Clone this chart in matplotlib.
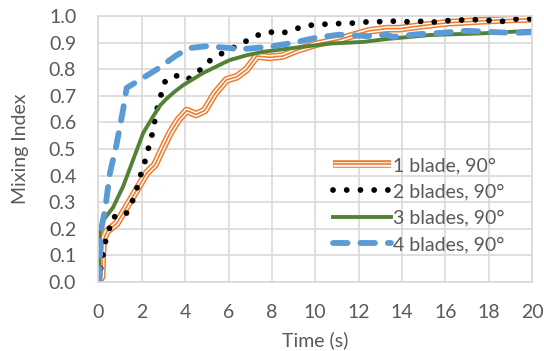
import matplotlib
matplotlib.use("Agg")
import matplotlib.pyplot as plt
from matplotlib.legend_handler import HandlerTuple

# ---- data ----
t1 = [0, 0.15, 0.18, 0.22, 0.38, 0.84, 1.3, 1.76, 2.22, 2.6, 2.92, 3.3, 3.68, 4.07, 4.5, 4.9,
      5.37, 5.9, 6.38, 6.84, 7.3, 7.9, 8.5, 9.15, 10.07, 11.1, 11.75, 12.5, 13.3, 13.9, 15.0,
      16.1, 17.6, 19.1, 20]
v1 = [0, 0.02, 0.10, 0.158, 0.19, 0.22, 0.283, 0.346, 0.41, 0.44, 0.496, 0.56, 0.61, 0.645,
      0.63, 0.645, 0.709, 0.76, 0.772, 0.80, 0.85, 0.845, 0.85, 0.872, 0.895, 0.912, 0.928,
      0.945, 0.953, 0.953, 0.965, 0.975, 0.982, 0.988, 0.99]

t2 = [0, 0.1, 0.3, 0.67, 1.22, 1.53, 1.73, 1.92, 2.1, 2.28, 2.45, 2.58, 2.7, 2.87, 3.07, 3.53,
      4.07, 4.56, 5.0, 5.53, 6.07, 6.68, 7.22, 7.84, 8.45, 9.0, 9.65, 10.3, 10.9, 11.5, 12.2,
      12.76, 13.45, 14.1, 14.7, 15.3, 15.9, 16.6, 17.2, 17.9, 18.5, 19.1, 19.7, 20]
v2 = [0, 0.05, 0.146, 0.245, 0.248, 0.296, 0.34, 0.396, 0.44, 0.496, 0.546, 0.60, 0.65, 0.70,
      0.753, 0.778, 0.76, 0.787, 0.825, 0.853, 0.875, 0.90, 0.925, 0.941, 0.935, 0.95, 0.965,
      0.969, 0.972, 0.972, 0.978, 0.978, 0.982, 0.978, 0.982, 0.976, 0.982, 0.985, 0.987,
      0.985, 0.978, 0.989, 0.989, 0.99]

t3 = [0, 0.03, 0.05, 0.2, 0.67, 1.14, 1.6, 2.06, 2.5, 2.85, 3.15, 3.5, 3.9, 4.8, 5.75, 6.07,
      6.84, 7.6, 9.15, 10.7, 12.2, 13.3, 15.3, 17.6, 20]
v3 = [0.0, 0.07, 0.18, 0.23, 0.28, 0.36, 0.46, 0.56, 0.62, 0.665, 0.69, 0.715, 0.74, 0.785,
      0.823, 0.835, 0.853, 0.866, 0.882, 0.897, 0.903, 0.914, 0.929, 0.935, 0.945]

t4 = [0, 0.05, 0.1, 0.3, 0.53, 0.84, 1.14, 1.3, 1.9, 2.7, 3.6, 4.2, 5.0, 6.07, 6.5, 7.9, 9.0,
      10.1, 11.1, 12.4, 13.3, 13.6, 14.7, 15.8, 17.0, 18.2, 19.3, 20]
v4 = [0, 0.0, 0.19, 0.27, 0.41, 0.52, 0.65, 0.73, 0.76, 0.80, 0.853, 0.88, 0.887, 0.88, 0.875,
      0.885, 0.90, 0.92, 0.93, 0.925, 0.93, 0.922, 0.932, 0.937, 0.945, 0.94, 0.937, 0.94]

labels = ["1 blade, 90°", "2 blades, 90°", "3 blades, 90°", "4 blades, 90°"]
x_ticks = list(range(0, 21, 2))
y_ticks = [i / 10 for i in range(11)]

# ---- style ----
plt.rcParams['font.family'] = ['Lato', 'DejaVu Sans']
TXT = '#595959'
GRID = '#d9d9d9'
ORANGE = '#ED7D31'
GREEN = '#548235'
BLUE = '#5B9BD5'
FS = 14

fig = plt.figure(figsize=(5.44, 3.51), dpi=100)
ax = fig.add_axes([0.181, 0.1966, 0.797, 0.7574])

# series 1: triple compound orange line
o1, = ax.plot(t1, v1, color=ORANGE, lw=5.5, solid_capstyle='butt', solid_joinstyle='round')
o2, = ax.plot(t1, v1, color='white', lw=3.3, solid_capstyle='butt', solid_joinstyle='round')
o3, = ax.plot(t1, v1, color=ORANGE, lw=1.2, solid_capstyle='butt', solid_joinstyle='round')

# series 2: round dots
l2, = ax.plot(t2, v2, color='black', lw=4.2, linestyle=(0, (0.001, 2.35)),
              dash_capstyle='round')
# series 3: solid green
l3, = ax.plot(t3, v3, color=GREEN, lw=2.8, solid_joinstyle='round')
# series 4: long dash blue
l4, = ax.plot(t4, v4, color=BLUE, lw=4.2, linestyle=(0, (2.5, 2.2)),
              dash_capstyle='round')

ax.set_xlim(0, 20)
ax.set_ylim(0, 1.0)
ax.set_xticks(x_ticks)
ax.set_yticks(y_ticks)
ax.set_yticklabels([f"{y:.1f}" for y in y_ticks])
ax.grid(True, color=GRID, lw=1.2)
ax.set_axisbelow(True)
for s in ax.spines.values():
    s.set_color(GRID)
    s.set_linewidth(1.2)
ax.tick_params(length=0, labelsize=FS, labelcolor=TXT)
ax.tick_params(axis='x', pad=16)
ax.tick_params(axis='y', pad=16)
ax.set_xlabel("Time (s)", fontsize=FS, color=TXT, labelpad=7)
ax.set_ylabel("Mixing Index", fontsize=FS, color=TXT, labelpad=14)

leg = ax.legend([(o1, o2, o3), l2, l3, l4], labels,
                handler_map={tuple: HandlerTuple(ndivide=1)},
                loc='center left', bbox_to_anchor=(0.541, 0.29),
                frameon=False, fontsize=FS, handlelength=3.0, handletextpad=0.1,
                labelspacing=0.48, borderpad=0, borderaxespad=0)
for txt in leg.get_texts():
    txt.set_color(TXT)

fig.savefig("out.png", dpi=100)
